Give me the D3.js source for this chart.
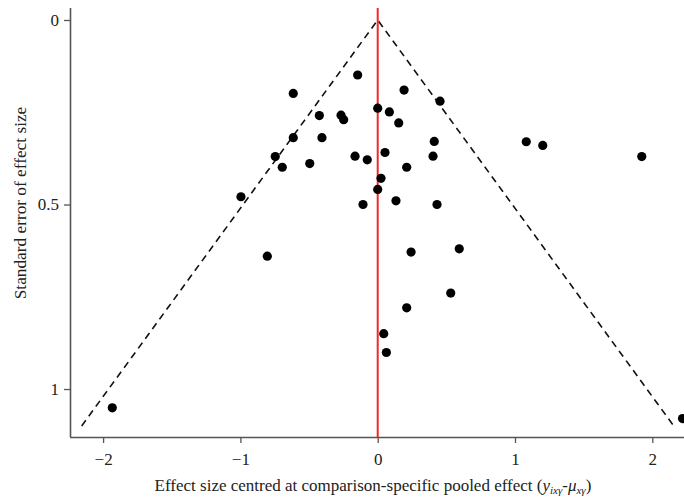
<!DOCTYPE html>
<html>
<head>
<meta charset="utf-8">
<script src="https://cdn.jsdelivr.net/npm/d3@7/dist/d3.min.js"></script>
<style>
  html, body { margin: 0; padding: 0; background: #fff; }
  svg { display: block; }
  text { font-family: "Liberation Serif", "DejaVu Serif", serif; fill: #222; }
</style>
</head>
<body>
<svg id="chart" width="684" height="501"></svg>
<script>
// Data: centred effect sizes (x) and their standard errors (y)
const effects = [-0.146, -0.615, 0.192, 0.454, 0.000, 0.085, -0.425, -0.267, -0.248, 0.153,
                 -0.615, -0.406, 0.412, -0.746, -0.165, -0.076, 0.053, 0.403, -0.695, -0.495,
                 0.211, 0.024, 0.000, -0.996, -0.107, 0.133, 0.432,
                 -0.804, 0.243, 0.594, 0.532, 0.211, 0.044, 0.063,
                 1.082, 1.202, 1.923, -1.933, 2.220];
const stdErrors = [0.149, 0.199, 0.190, 0.220, 0.239, 0.249, 0.259, 0.258, 0.270, 0.279,
                   0.319, 0.319, 0.329, 0.370, 0.369, 0.379, 0.359, 0.369, 0.399, 0.389,
                   0.399, 0.429, 0.459, 0.479, 0.500, 0.490, 0.500,
                   0.640, 0.629, 0.620, 0.740, 0.780, 0.850, 0.901,
                   0.330, 0.340, 0.370, 1.051, 1.080];
const xTicks = [-2, -1, 0, 1, 2];
const yTicks = [0, 0.5, 1];
const funnelMaxSE = 1.1;
const zCrit = 1.96;

(function () {
const svg = d3.select("#chart");
const mLeft = 70, mRight = 685, mTop = 8, mBottom = 437;

const x = d3.scaleLinear().domain([-2.241, 2.238]).range([mLeft, mRight]);
const y = d3.scaleLinear().domain([-0.0325, 1.13]).range([mTop, mBottom]);

// Axes
const xAxis = d3.axisBottom(x).tickValues(xTicks).tickSize(6).tickPadding(10)
  .tickFormat(d => d < 0 ? "\u2212" + Math.abs(d) : String(d));
const yAxis = d3.axisLeft(y).tickValues(yTicks).tickSize(6).tickPadding(5)
  .tickFormat(d => String(d));

const gx = svg.append("g").attr("transform", `translate(0,${mBottom})`).call(xAxis);
const gy = svg.append("g").attr("transform", `translate(${mLeft},0)`).call(yAxis);
[gx, gy].forEach(g => {
  g.select(".domain").attr("stroke", "#555").attr("stroke-width", 1.6);
  g.selectAll(".tick line").attr("stroke", "#555").attr("stroke-width", 1.3);
  g.selectAll(".tick text").attr("font-family", "Liberation Serif, DejaVu Serif, serif")
    .attr("font-size", 17).attr("fill", "#222");
});
gx.select(".domain").attr("d", `M${mLeft},0.5H${mRight}`);
gy.select(".domain").attr("d", `M0.5,${mTop}V${mBottom}`);

// Funnel (pseudo 95% CI) dashed lines
const funnel = [[-zCrit * funnelMaxSE, funnelMaxSE], [0, 0], [zCrit * funnelMaxSE, funnelMaxSE]];
svg.append("path")
  .attr("d", d3.line().x(d => x(d[0])).y(d => y(d[1]))(funnel))
  .attr("fill", "none").attr("stroke", "#111").attr("stroke-width", 1.6)
  .attr("stroke-dasharray", "7,5");

// Red reference line at zero
svg.append("line")
  .attr("x1", x(0)).attr("x2", x(0)).attr("y1", mTop).attr("y2", mBottom)
  .attr("stroke", "#f0282d").attr("stroke-width", 2);

// Points
svg.append("g").selectAll("circle")
  .data(effects.map((e, i) => [e, stdErrors[i]]))
  .join("circle")
  .attr("cx", d => x(d[0])).attr("cy", d => y(d[1]))
  .attr("r", 4.6).attr("fill", "#000");

// Axis titles
svg.append("text")
  .attr("transform", `translate(22,203) rotate(-90)`)
  .attr("text-anchor", "middle").attr("dominant-baseline", "middle")
  .attr("font-size", 17.3).text("Standard error of effect size");

const xl = svg.append("text")
  .attr("x", 373).attr("y", 491).attr("text-anchor", "middle").attr("font-size", 17);
xl.append("tspan").text("Effect size centred at comparison-specific pooled effect (");
xl.append("tspan").attr("font-style", "italic").text("y");
xl.append("tspan").attr("font-style", "italic").attr("font-size", 11).attr("dy", 3).text("ix\u03B3");
xl.append("tspan").attr("dy", -3).text("-");
xl.append("tspan").attr("font-style", "italic").text("\u03BC");
xl.append("tspan").attr("font-style", "italic").attr("font-size", 11).attr("dy", 3).text("x\u03B3");
xl.append("tspan").attr("dy", -3).text(")");
})();
</script>
</body>
</html>
